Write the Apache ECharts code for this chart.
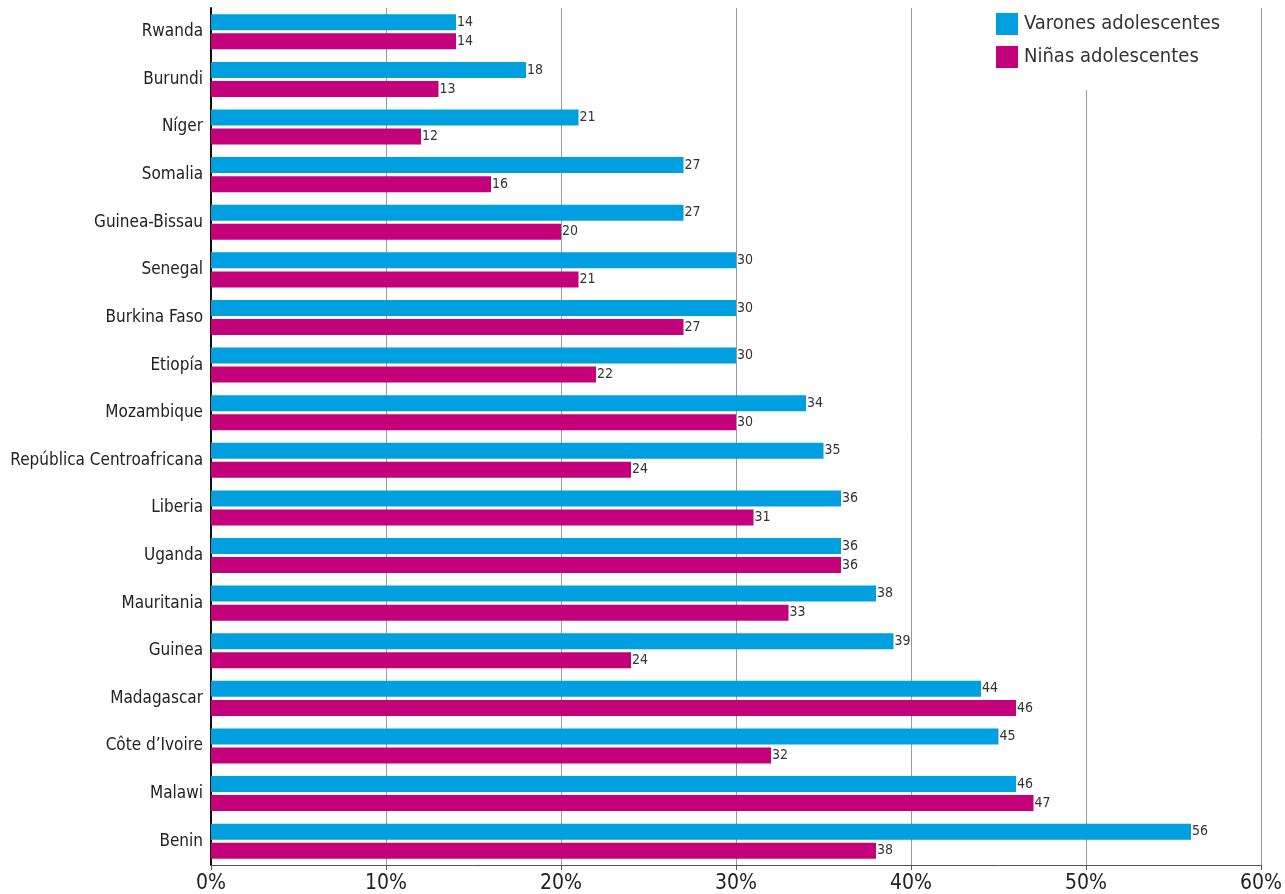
<!DOCTYPE html>
<html>
<head>
<meta charset="utf-8">
<script src="https://cdn.jsdelivr.net/npm/echarts@6/dist/echarts.min.js"></script>
<style>
  html, body { margin: 0; padding: 0; background: #fff; }
  #chart { width: 1285px; height: 894px; }
</style>
</head>
<body>
<div id="chart"></div>
<script>
var paises = ['Rwanda', 'Burundi', 'Níger', 'Somalia', 'Guinea-Bissau', 'Senegal', 'Burkina Faso', 'Etiopía',
  'Mozambique', 'República Centroafricana', 'Liberia', 'Uganda', 'Mauritania', 'Guinea', 'Madagascar',
  'Côte d\u2019Ivoire', 'Malawi', 'Benin']
var varones = [14, 18, 21, 27, 27, 30, 30, 30, 34, 35, 36, 36, 38, 39, 44, 45, 46, 56]
var ninas = [14, 13, 12, 16, 20, 21, 27, 22, 30, 24, 31, 36, 33, 24, 46, 32, 47, 38]
var ticks = [0, 10, 20, 30, 40, 50, 60]

var fuente = '"Liberation Sans Narrow", "DejaVu Sans Condensed", "Roboto", sans-serif'

var myChart = echarts.init(document.getElementById('chart'), null, { renderer: 'canvas' })

function serie(name, data, color) {
  return {
    name: name,
    type: 'bar',
    data: data,
    barWidth: 16,
    barGap: '19%',
    itemStyle: { color: color },
    label: {
      show: true,
      position: 'right',
      distance: 1,
      color: '#333',
      fontFamily: fuente,
      fontSize: 14
    }
  }
}

var option = {
  animation: false,
  grid: { left: 211, right: 22, top: 8, bottom: 25, containLabel: false },
  legend: {
    orient: 'vertical',
    left: 990,
    top: 7,
    padding: [6, 40, 22, 6],
    backgroundColor: '#fff',
    itemWidth: 22,
    itemHeight: 22,
    itemGap: 11,
    icon: 'rect',
    textStyle: { fontFamily: fuente, fontSize: 20, color: '#333', padding: [0, 0, 0, 1] },
    data: ['Varones adolescentes', 'Niñas adolescentes']
  },
  xAxis: {
    type: 'value',
    min: ticks[0],
    max: ticks[ticks.length - 1],
    interval: 10,
    axisLine: { show: true, lineStyle: { color: '#555', width: 1 } },
    axisTick: { show: true, length: 5, lineStyle: { color: '#555' } },
    axisLabel: { formatter: '{value}%', fontFamily: fuente, fontSize: 21, color: '#222', margin: 8 },
    splitLine: { show: true, lineStyle: { color: '#999', width: 1 } }
  },
  yAxis: {
    type: 'category',
    inverse: true,
    data: paises,
    axisLine: { show: true, lineStyle: { color: '#111', width: 2 } },
    axisTick: { show: false },
    axisLabel: { fontFamily: fuente, fontSize: 17, color: '#222', margin: 8 }
  },
  series: [
    serie('Varones adolescentes', varones, '#009FE0'),
    serie('Niñas adolescentes', ninas, '#C4007A')
  ]
}

myChart.setOption(option)
window.addEventListener('resize', myChart.resize)
</script>
</body>
</html>
